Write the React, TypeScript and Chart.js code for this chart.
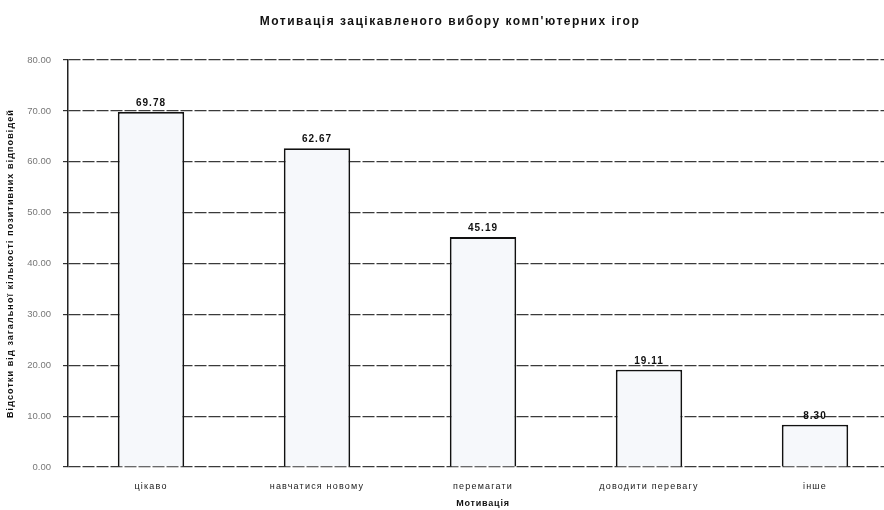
import React, { useEffect, useRef } from "react";
import { Chart, registerables } from "chart.js";

Chart.register(...registerables);

const chartTitle = "Мотивація зацікавленого вибору комп'ютерних ігор";
const xAxisTitle = "Мотивація";
const yAxisTitle = "Відсотки від загальної кількості позитивних відповідей";
const categories = ["цікаво", "навчатися новому", "перемагати", "доводити перевагу", "інше"];
const shares = [69.78, 62.67, 45.19, 19.11, 8.3];
const yMin = 0;
const yMax = 80;
const yStep = 10;

const FONT = "'Liberation Sans', Arial, sans-serif";

// Chart title, axis titles, category names and the value above each bar
const annotations = {
  id: "annotations",
  afterDatasetsDraw(chart: any) {
    const { ctx, chartArea } = chart;
    ctx.save();
    ctx.fillStyle = "#111";
    ctx.textAlign = "center";
    ctx.textBaseline = "middle";

    ctx.font = `bold 12px ${FONT}`;
    ctx.letterSpacing = "1.5px";
    ctx.fillText(chartTitle, 450, 22);

    ctx.font = `bold 9px ${FONT}`;
    ctx.letterSpacing = "0.8px";
    ctx.fillText(xAxisTitle, (chartArea.left + chartArea.right) / 2, 504);

    const xScale = chart.scales.x;
    ctx.font = `9px ${FONT}`;
    ctx.letterSpacing = "1.2px";
    ctx.fillStyle = "#1a1a1a";
    categories.forEach((c, i) => {
      ctx.fillText(c, xScale.getPixelForValue(i), 487);
    });

    ctx.save();
    ctx.fillStyle = "#111";
    ctx.translate(11, (chartArea.top + chartArea.bottom) / 2);
    ctx.rotate(-Math.PI / 2);
    ctx.font = `bold 9px ${FONT}`;
    ctx.letterSpacing = "1.1px";
    ctx.fillText(yAxisTitle, 0, 0);
    ctx.restore();

    const meta = chart.getDatasetMeta(0);
    ctx.fillStyle = "#111";
    ctx.font = `bold 10px ${FONT}`;
    ctx.letterSpacing = "1px";
    ctx.textBaseline = "bottom";
    meta.data.forEach((bar: any, i: number) => {
      ctx.fillText(shares[i].toFixed(2), bar.x, bar.y - 4);
    });
    ctx.restore();
  },
};

export default function App() {
  const canvasRef = useRef<HTMLCanvasElement>(null);

  useEffect(() => {
    if (!canvasRef.current) return;
    const chart = new Chart(canvasRef.current, {
      type: "bar",
      data: {
        labels: categories,
        datasets: [
          {
            data: shares,
            backgroundColor: "#f6f8fb",
            borderColor: "#111",
            borderWidth: 1.8,
            barPercentage: 0.4,
            categoryPercentage: 1,
          },
        ],
      },
      options: {
        animation: false,
        responsive: false,
        maintainAspectRatio: false,
        layout: { padding: { top: 60, left: 0, right: 2, bottom: 0 } },
        plugins: {
          legend: { display: false },
          title: { display: false },
          tooltip: { enabled: false },
        },
        scales: {
          x: {
            grid: { display: false },
            border: { display: false },
            ticks: { display: false },
            afterFit(scale: any) {
              scale.height = 43;
            },
          },
          y: {
            min: yMin,
            max: yMax,
            ticks: {
              stepSize: yStep,
              color: "#777",
              font: { family: FONT, size: 9.5 },
              padding: 12,
              callback: (v: any) => Number(v).toFixed(2),
            },
            grid: {
              color: "#3a3a3a",
              lineWidth: 1.2,
              tickLength: 5,
              tickColor: "#333",
            },
            border: { color: "#222", width: 1.5, dash: [12, 2] },
            afterFit(scale: any) {
              scale.width = 68;
            },
          },
        },
      },
      plugins: [annotations],
    });
    return () => chart.destroy();
  }, []);

  return (
    <div
      style={{
        position: "fixed",
        left: 0,
        top: 0,
        width: 884,
        height: 510,
        overflow: "hidden",
        background: "#fff",
      }}
    >
      <canvas ref={canvasRef} width={900} height={510} style={{ display: "block" }} />
    </div>
  );
}
